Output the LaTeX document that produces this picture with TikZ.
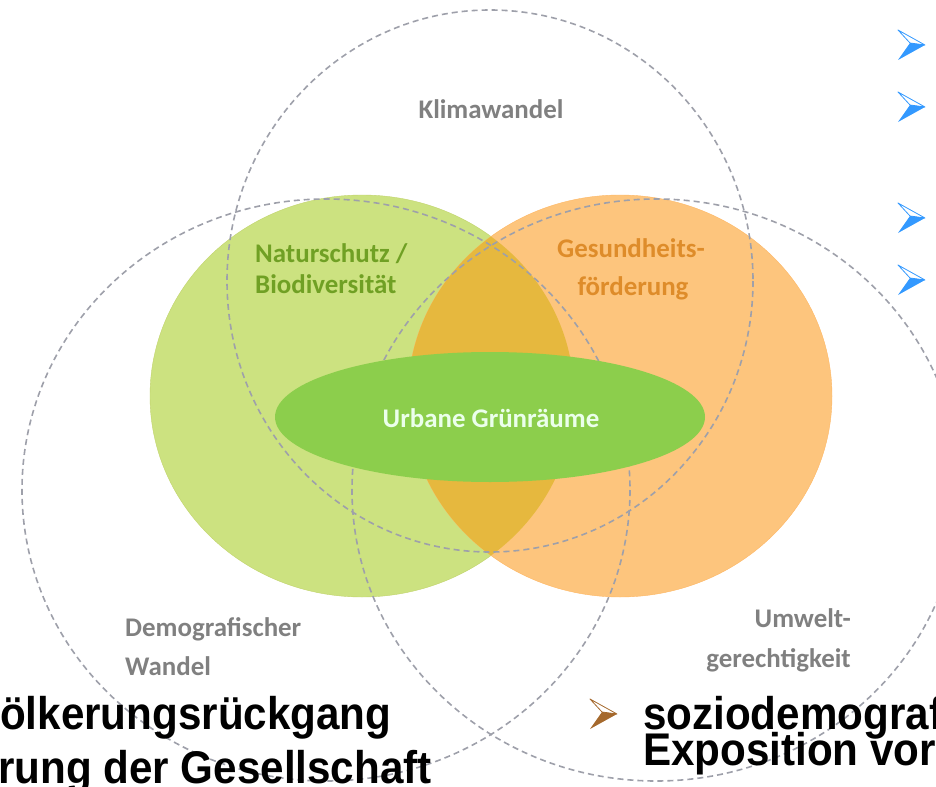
\documentclass[tikz,border=0pt]{standalone}
\usepackage{fontspec}
\setmainfont{Carlito}
\newfontfamily\slidefont[FakeStretch=0.92]{Liberation Sans}

\definecolor{venngreen}{RGB}{204,226,128}
\definecolor{vennorange}{RGB}{253,197,125}
\definecolor{lensgold}{RGB}{230,184,62}
\definecolor{urbangreen}{RGB}{140,206,76}
\definecolor{ringgray}{RGB}{158,160,170}
\definecolor{labelgray}{RGB}{128,128,128}
\definecolor{naturgreen}{RGB}{112,160,36}
\definecolor{healthorange}{RGB}{222,140,42}
\definecolor{bulletblue}{RGB}{51,153,255}
\definecolor{bulletbrown}{RGB}{165,105,45}

\tikzset{
  pics/arrowbullet/.style={code={
    \filldraw[draw=#1, fill=white, line width=0.8bp, line join=round]
      (-13,-15) -- (14,0) -- (-1,-2) -- cycle;
    \fill[#1] (-1,-2) -- (14,0) -- (-13,15) -- cycle;
  }}
}

\begin{document}
\begin{tikzpicture}[x=1bp,y=-1bp,
  ring/.style={draw=ringgray, line width=1.6bp, dash pattern=on 6bp off 4bp},
  label/.style={font=\fontsize{27}{32}\selectfont\bfseries, inner sep=0pt},
  slide/.style={font=\fontsize{46}{50}\selectfont\slidefont\bfseries, anchor=base west, inner sep=0pt}]
\useasboundingbox (0,0) rectangle (936,787);
\clip (0,0) rectangle (936,787);

% the two coloured circles and their overlap
\filldraw[fill=venngreen, draw=venngreen!85!olive] (362,396) ellipse [x radius=212, y radius=201];
\filldraw[fill=vennorange, draw=vennorange!80!orange] (620,396) ellipse [x radius=212, y radius=201];
\begin{scope}
  \clip (362,396) ellipse [x radius=212, y radius=201];
  \fill[lensgold] (620,396) ellipse [x radius=212, y radius=201];
\end{scope}

% dashed rings
\draw[ring] (490,281) ellipse [x radius=263, y radius=271];
\draw[ring] (326,490) ellipse [x radius=304, y radius=291];
\draw[ring] (656,490) ellipse [x radius=304, y radius=291];

% centre
\fill[urbangreen] (490,417) ellipse [x radius=215, y radius=65];

\node[label, labelgray, anchor=base] (klima) at (491,118) {Klimawandel};
\node[label, naturgreen, anchor=base west] (natur) at (255,262) {Naturschutz /};
\node[label, naturgreen, anchor=base west] (bio) at (255,293) {Biodiversität};
\node[label, healthorange, anchor=base] (gesund) at (631,257) {Gesundheits-};
\node[label, healthorange, anchor=base] (foerder) at (633,295) {förderung};
\node[label, white!92!green, anchor=base] (urban) at (491,427) {Urbane Grünräume};
\node[label, labelgray, anchor=base west] (demo) at (125,636) {Demografischer};
\node[label, labelgray, anchor=base west] (wandel) at (125,675) {Wandel};
\node[label, labelgray, anchor=base east] (umwelt) at (851,627) {Umwelt-};
\node[label, labelgray, anchor=base east] (gerecht) at (851,667) {gerechtigkeit};

% bullets of the slide behind
\foreach \y in {45,107,218,280}
  \pic at (911,\y) {arrowbullet=bulletblue};
\pic at (603,714) {arrowbullet=bulletbrown};

\node[slide] (rueck) at (0,729) {ölkerungsrückgang};
\node[slide] (alter) at (-2,783) {rung der Gesellschaft};
\node[slide] (sozio) at (643,729) {soziodemograf};
\node[slide] (expo) at (643,765) {Exposition vor};
\end{tikzpicture}
\end{document}
